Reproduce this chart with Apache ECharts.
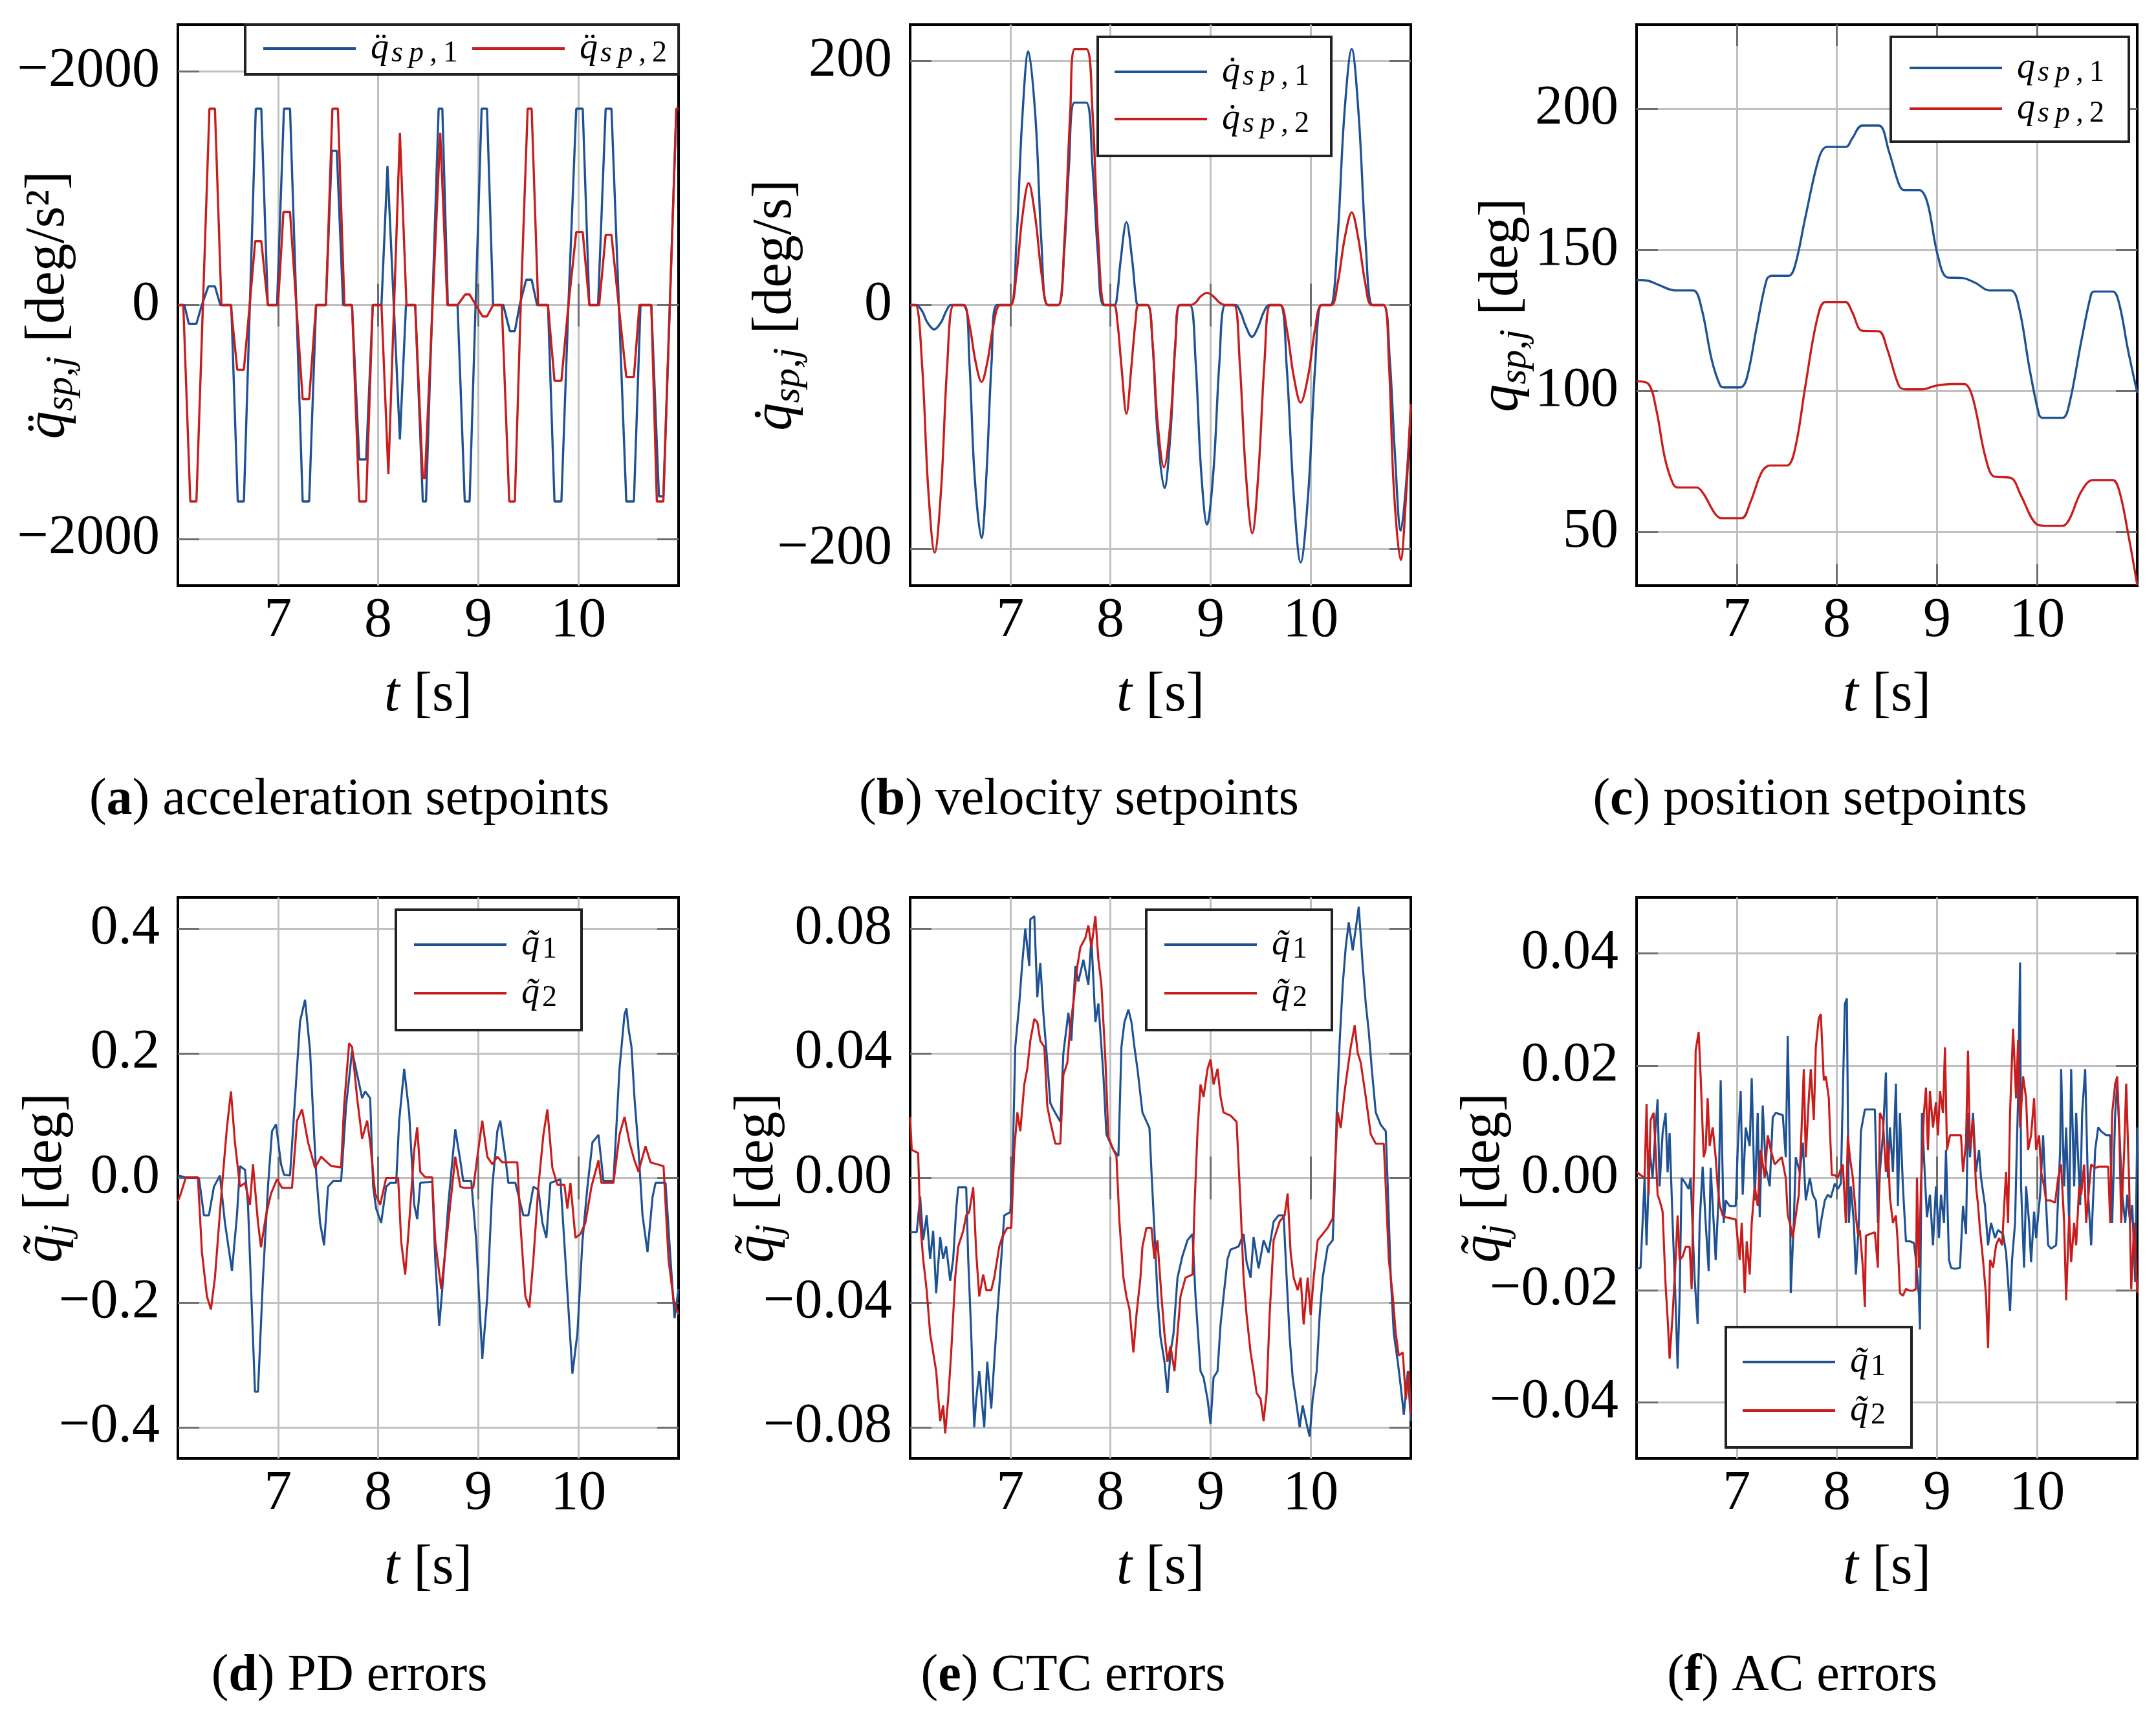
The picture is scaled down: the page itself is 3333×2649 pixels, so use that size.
<!DOCTYPE html>
<html><head><meta charset="utf-8">
<script src="https://cdn.jsdelivr.net/npm/echarts@6/dist/echarts.min.js"></script>
<style>html,body{margin:0;padding:0;background:#fff}#c{width:3333px;height:2649px}</style>
</head><body><div id="c"></div>
<script>
// ---------------- data ----------------
const xTicks = [7, 8, 9, 10];
const accTicks = [-2000, 0, 2000];
const velTicks = [-200, 0, 200];
const posTicks = [50, 100, 150, 200];
const pdTicks = [-0.4, -0.2, 0, 0.2, 0.4];
const ctcTicks = [-0.08, -0.04, 0, 0.04, 0.08];
const acTicks = [-0.04, -0.02, 0, 0.02, 0.04];

const accQ1 = [[6.0,0],[6.065,0],[6.109,-160],[6.185,-160],[6.239,0],[6.304,160],[6.37,160],[6.424,0],[6.533,0],[6.598,-1680],[6.659,-1680],[6.778,1680],[6.833,1680],[6.898,0],[6.99,0],[7.059,1680],[7.12,1680],[7.246,-1680],[7.311,-1680],[7.38,0],[7.478,0],[7.537,1320],[7.587,1320],[7.65,0],[7.739,0],[7.811,-1320],[7.88,-1320],[7.946,0],[8.033,0],[8.093,1190],[8.217,-1150],[8.278,0],[8.37,0],[8.446,-1680],[8.478,-1680],[8.604,1680],[8.641,1680],[8.696,0],[8.793,0],[8.865,-1680],[8.913,-1680],[9.033,1680],[9.087,1680],[9.148,0],[9.25,0],[9.315,-223],[9.365,-223],[9.413,0],[9.478,217],[9.533,217],[9.587,0],[9.696,0],[9.761,-1680],[9.83,-1680],[9.9,0],[9.978,1680],[10.043,1680],[10.109,0],[10.196,0],[10.272,1680],[10.33,1680],[10.478,-1680],[10.554,-1680],[10.62,0],[10.728,0],[10.804,-1636],[10.848,-1636],[10.978,1680],[11.0,1680]];
const accQ2 = [[6.0,0],[6.054,0],[6.124,-1680],[6.185,-1680],[6.315,1680],[6.37,1680],[6.435,0],[6.528,0],[6.593,-553],[6.659,-553],[6.717,0],[6.772,547],[6.833,547],[6.898,0],[7.0,0],[7.054,797],[7.12,797],[7.246,-804],[7.311,-804],[7.38,0],[7.478,0],[7.543,1680],[7.598,1680],[7.663,0],[7.739,0],[7.811,-1680],[7.88,-1680],[7.946,0],[8.033,0],[8.102,-1447],[8.217,1473],[8.283,0],[8.37,0],[8.446,-1480],[8.467,-1480],[8.62,1473],[8.691,0],[8.793,0],[8.87,91],[8.913,91],[9.043,-97],[9.087,-97],[9.148,0],[9.235,0],[9.309,-1680],[9.365,-1680],[9.424,0],[9.493,1680],[9.533,1680],[9.598,0],[9.696,0],[9.761,-647],[9.83,-647],[9.9,0],[9.978,625],[10.043,625],[10.109,0],[10.207,0],[10.272,600],[10.33,600],[10.402,0],[10.478,-615],[10.554,-615],[10.609,0],[10.728,0],[10.783,-1680],[10.848,-1680],[10.978,1680],[11.0,1680]];

const velQ1 = [[6.0,0],[6.06,0],[6.12,-5],[6.17,-14],[6.24,-20],[6.31,-14],[6.36,-5],[6.406,0],[6.538,0],[6.591,-46],[6.643,-139],[6.713,-191],[6.762,-139],[6.814,-46],[6.867,0],[7.0,0],[7.06,50],[7.119,152],[7.18,208],[7.253,152],[7.312,50],[7.372,0],[7.478,0],[7.537,42],[7.587,115],[7.642,166],[7.758,166],[7.82,115],[7.875,42],[7.933,0],[8.038,0],[8.07,10],[8.1,35],[8.16,68],[8.22,35],[8.25,10],[8.279,0],[8.37,0],[8.42,-30],[8.47,-105],[8.54,-150],[8.6,-105],[8.65,-30],[8.696,0],[8.793,0],[8.85,-45],[8.905,-135],[8.965,-180],[9.03,-135],[9.09,-45],[9.148,0],[9.25,0],[9.3,-6],[9.35,-17],[9.413,-26],[9.48,-17],[9.53,-6],[9.587,0],[9.696,0],[9.76,-50],[9.83,-155],[9.9,-211],[9.975,-155],[10.045,-50],[10.109,0],[10.196,0],[10.265,50],[10.335,155],[10.41,210],[10.48,155],[10.55,50],[10.62,0],[10.728,0],[10.79,-45],[10.84,-120],[10.9,-185],[10.95,-150],[11.0,-85]];
const velQ2 = [[6.0,0],[6.054,0],[6.12,-50],[6.18,-150],[6.245,-203],[6.31,-150],[6.37,-50],[6.435,0],[6.528,0],[6.59,-15],[6.65,-45],[6.713,-63],[6.775,-45],[6.835,-15],[6.898,0],[7.0,0],[7.06,24],[7.12,72],[7.183,100],[7.25,72],[7.315,24],[7.38,0],[7.478,0],[7.54,52],[7.6,160],[7.645,210],[7.76,210],[7.82,160],[7.88,52],[7.946,0],[8.033,0],[8.07,-14],[8.11,-50],[8.16,-89],[8.21,-50],[8.25,-14],[8.283,0],[8.37,0],[8.42,-30],[8.47,-95],[8.535,-133],[8.6,-95],[8.65,-30],[8.691,0],[8.793,0],[8.85,2],[8.9,7],[8.965,10],[9.03,7],[9.09,2],[9.148,0],[9.235,0],[9.29,-45],[9.35,-135],[9.417,-187],[9.48,-135],[9.54,-45],[9.598,0],[9.696,0],[9.76,-19],[9.83,-58],[9.9,-80],[9.975,-58],[10.045,-19],[10.109,0],[10.207,0],[10.27,18],[10.34,55],[10.41,76],[10.475,55],[10.545,18],[10.609,0],[10.728,0],[10.78,-45],[10.83,-150],[10.9,-209],[10.95,-160],[11.0,-81]];

const posQ1 = [[6.0,139.4],[6.117,139.1],[6.217,137.7],[6.384,135.7],[6.567,135.7],[6.65,129.2],[6.751,111],[6.834,102],[6.87,101.3],[7.035,101.3],[7.1,104.5],[7.2,122.7],[7.3,139.6],[7.35,140.9],[7.52,140.9],[7.585,144.8],[7.686,161.7],[7.82,182.5],[7.9,186.6],[8.09,186.6],[8.153,189.6],[8.253,194.2],[8.42,194.2],[8.52,185],[8.62,173.4],[8.67,171.3],[8.82,171.3],[8.904,166.9],[9.004,148.7],[9.104,140.3],[9.254,140.1],[9.388,138.3],[9.521,135.7],[9.738,135.7],[9.822,129.2],[9.922,108.4],[10.02,91.6],[10.055,90.5],[10.255,90.5],[10.322,95.5],[10.44,117.5],[10.54,134.4],[10.57,135.3],[10.756,135.3],[10.823,130.5],[10.906,114.9],[11.0,99.4]];
const posQ2 = [[6.0,103.5],[6.117,102.6],[6.2,92.9],[6.284,76],[6.367,66.9],[6.417,65.8],[6.6,65.8],[6.668,63.6],[6.784,56.5],[6.85,54.9],[7.05,54.9],[7.135,60.4],[7.252,71.4],[7.335,73.6],[7.502,73.6],[7.585,79.9],[7.686,101.9],[7.802,125.3],[7.886,131.6],[8.086,131.6],[8.153,128],[8.253,121.4],[8.42,121.2],[8.503,114.9],[8.62,101.9],[8.687,100.6],[8.854,100.6],[8.987,101.9],[9.154,102.5],[9.271,102.5],[9.354,98],[9.488,76],[9.571,69.7],[9.738,69.2],[9.838,63],[9.989,52.9],[10.089,52.2],[10.255,52.2],[10.322,54.5],[10.44,64.3],[10.556,68.4],[10.756,68.4],[10.823,64.3],[10.906,50],[11.0,31.2]];

const pdErr1 = [[6.0,0.004],[6.098,0.0],[6.21,0],[6.26,-0.06],[6.31,-0.06],[6.36,-0.014],[6.42,0.004],[6.47,-0.072],[6.54,-0.149],[6.59,-0.06],[6.62,0.019],[6.67,0.013],[6.70,-0.043],[6.77,-0.343],[6.80,-0.343],[6.85,-0.16],[6.9,-0.014],[6.94,0.075],[6.98,0.086],[7.03,0.022],[7.06,0.005],[7.12,0.004],[7.17,0.128],[7.22,0.251],[7.27,0.286],[7.32,0.204],[7.35,0.104],[7.38,0.01],[7.42,-0.072],[7.46,-0.108],[7.5,-0.014],[7.55,-0.005],[7.63,-0.005],[7.68,0.116],[7.74,0.204],[7.81,0.151],[7.84,0.128],[7.87,0.139],[7.92,0.128],[7.95,-0.014],[7.98,-0.049],[8.03,-0.072],[8.08,-0.014],[8.12,-0.008],[8.18,-0.008],[8.21,0.092],[8.26,0.175],[8.31,0.104],[8.36,-0.043],[8.39,-0.066],[8.42,-0.008],[8.54,-0.006],[8.57,-0.131],[8.61,-0.237],[8.65,-0.16],[8.70,-0.043],[8.77,0.078],[8.82,0.028],[8.85,-0.005],[8.93,-0.005],[8.98,-0.102],[9.04,-0.29],[9.09,-0.19],[9.14,-0.014],[9.19,0.075],[9.22,0.092],[9.27,0.034],[9.30,-0.008],[9.37,-0.008],[9.45,-0.06],[9.5,-0.06],[9.55,-0.014],[9.6,-0.019],[9.64,-0.072],[9.68,-0.096],[9.72,-0.008],[9.82,-0.002],[9.87,-0.131],[9.94,-0.314],[9.99,-0.249],[10.04,-0.102],[10.09,-0.014],[10.14,0.057],[10.2,0.069],[10.25,-0.005],[10.35,-0.005],[10.41,0.175],[10.46,0.262],[10.48,0.272],[10.5,0.24],[10.53,0.21],[10.56,0.128],[10.6,0.045],[10.64,-0.06],[10.69,-0.119],[10.74,-0.031],[10.77,-0.008],[10.87,-0.008],[10.92,-0.131],[10.96,-0.225],[11.0,-0.178]];
const pdErr2 = [[6.0,-0.037],[6.03,-0.025],[6.08,0.001],[6.2,0.001],[6.24,-0.119],[6.29,-0.19],[6.33,-0.211],[6.37,-0.16],[6.44,-0.014],[6.49,0.081],[6.53,0.139],[6.57,0.057],[6.62,-0.014],[6.67,-0.008],[6.72,-0.043],[6.75,0.022],[6.80,-0.072],[6.83,-0.111],[6.88,-0.06],[6.93,-0.025],[6.99,-0.002],[7.04,-0.016],[7.14,-0.016],[7.19,0.092],[7.24,0.11],[7.30,0.057],[7.37,0.016],[7.43,0.034],[7.53,0.019],[7.63,0.017],[7.66,0.116],[7.71,0.216],[7.74,0.21],[7.79,0.128],[7.84,0.063],[7.89,0.092],[7.92,0.057],[7.97,-0.025],[8.02,-0.043],[8.08,0],[8.2,0],[8.23,-0.102],[8.27,-0.155],[8.31,-0.072],[8.36,0.045],[8.39,0.081],[8.42,0.01],[8.47,0.001],[8.54,0.001],[8.57,-0.102],[8.63,-0.178],[8.67,-0.119],[8.72,-0.043],[8.77,0.034],[8.82,-0.014],[8.86,-0.016],[8.95,-0.016],[9.0,0.045],[9.04,0.092],[9.09,0.034],[9.14,0.022],[9.19,0.034],[9.24,0.025],[9.29,0.025],[9.39,0.025],[9.42,-0.072],[9.47,-0.19],[9.51,-0.208],[9.55,-0.131],[9.6,-0.014],[9.65,0.069],[9.69,0.11],[9.74,0.016],[9.79,-0.011],[9.86,-0.011],[9.89,-0.049],[9.92,-0.008],[9.97,-0.096],[10.02,-0.09],[10.07,-0.072],[10.13,-0.014],[10.2,0.028],[10.23,-0.008],[10.35,-0.008],[10.41,0.069],[10.46,0.098],[10.51,0.057],[10.56,0.028],[10.6,0.01],[10.67,0.051],[10.72,0.025],[10.85,0.019],[10.9,-0.131],[10.95,-0.196],[11.0,-0.219]];

const ctcErr1 = [[6.0,-0.0174],[6.066,-0.0174],[6.1,-0.006],[6.13,-0.02],[6.165,-0.012],[6.2,-0.026],[6.23,-0.017],[6.26,-0.037],[6.3,-0.019],[6.33,-0.026],[6.36,-0.022],[6.4,-0.033],[6.43,-0.026],[6.46,-0.01],[6.48,-0.003],[6.56,-0.003],[6.58,-0.026],[6.61,-0.05],[6.64,-0.08],[6.66,-0.071],[6.69,-0.062],[6.72,-0.073],[6.74,-0.08],[6.77,-0.059],[6.81,-0.074],[6.84,-0.059],[6.87,-0.044],[6.91,-0.026],[6.94,-0.012],[7.0,-0.011],[7.02,0.0],[7.05,0.042],[7.09,0.056],[7.12,0.069],[7.15,0.08],[7.19,0.068],[7.2,0.083],[7.24,0.084],[7.27,0.058],[7.3,0.069],[7.33,0.053],[7.37,0.037],[7.4,0.024],[7.43,0.022],[7.5,0.018],[7.53,0.04],[7.58,0.053],[7.61,0.044],[7.65,0.068],[7.68,0.063],[7.73,0.07],[7.78,0.062],[7.81,0.077],[7.85,0.05],[7.88,0.056],[7.93,0.033],[7.96,0.014],[8.03,0.009],[8.08,0.007],[8.11,0.042],[8.14,0.05],[8.18,0.054],[8.21,0.05],[8.24,0.042],[8.27,0.035],[8.32,0.021],[8.39,0.016],[8.41,0.002],[8.44,-0.017],[8.47,-0.038],[8.5,-0.051],[8.54,-0.059],[8.57,-0.069],[8.6,-0.056],[8.63,-0.05],[8.67,-0.032],[8.72,-0.025],[8.77,-0.02],[8.82,-0.018],[8.85,-0.038],[8.9,-0.062],[8.93,-0.064],[8.97,-0.071],[9.0,-0.079],[9.03,-0.064],[9.07,-0.062],[9.1,-0.047],[9.13,-0.038],[9.17,-0.026],[9.2,-0.023],[9.28,-0.022],[9.33,-0.018],[9.36,-0.027],[9.4,-0.032],[9.43,-0.019],[9.48,-0.029],[9.53,-0.02],[9.58,-0.024],[9.63,-0.014],[9.68,-0.012],[9.73,-0.012],[9.76,-0.032],[9.79,-0.051],[9.82,-0.064],[9.86,-0.073],[9.89,-0.08],[9.92,-0.073],[9.96,-0.079],[9.99,-0.083],[10.02,-0.071],[10.06,-0.062],[10.09,-0.044],[10.12,-0.032],[10.17,-0.022],[10.22,-0.02],[10.24,-0.003],[10.26,0.021],[10.29,0.044],[10.32,0.062],[10.35,0.074],[10.38,0.082],[10.42,0.073],[10.45,0.08],[10.48,0.087],[10.52,0.068],[10.55,0.056],[10.58,0.047],[10.61,0.035],[10.65,0.021],[10.7,0.017],[10.75,0.015],[10.77,-0.003],[10.8,-0.032],[10.83,-0.05],[10.87,-0.059],[10.9,-0.067],[10.93,-0.076],[10.97,-0.062],[11.0,-0.078]];
const ctcErr2 = [[6.0,0.0196],[6.016,0.009],[6.08,0.008],[6.1,-0.014],[6.13,-0.026],[6.165,-0.036],[6.2,-0.05],[6.23,-0.056],[6.26,-0.062],[6.3,-0.078],[6.33,-0.073],[6.35,-0.082],[6.38,-0.071],[6.41,-0.056],[6.45,-0.032],[6.48,-0.022],[6.53,-0.017],[6.56,-0.012],[6.59,-0.011],[6.63,-0.003],[6.66,-0.024],[6.69,-0.038],[6.73,-0.031],[6.76,-0.036],[6.81,-0.036],[6.84,-0.032],[6.89,-0.022],[6.92,-0.019],[6.97,-0.016],[7.01,-0.016],[7.04,0.009],[7.07,0.021],[7.1,0.015],[7.14,0.03],[7.17,0.035],[7.2,0.044],[7.24,0.051],[7.27,0.05],[7.3,0.044],[7.34,0.042],[7.37,0.023],[7.4,0.018],[7.45,0.011],[7.5,0.011],[7.53,0.033],[7.57,0.037],[7.6,0.049],[7.63,0.056],[7.67,0.068],[7.7,0.074],[7.75,0.077],[7.78,0.081],[7.81,0.074],[7.85,0.084],[7.88,0.07],[7.91,0.062],[7.95,0.038],[7.98,0.013],[8.03,0.009],[8.06,0.007],[8.09,-0.014],[8.13,-0.032],[8.16,-0.038],[8.19,-0.042],[8.23,-0.056],[8.26,-0.044],[8.3,-0.032],[8.32,-0.022],[8.36,-0.016],[8.41,-0.016],[8.44,-0.026],[8.47,-0.02],[8.51,-0.038],[8.54,-0.05],[8.57,-0.059],[8.6,-0.054],[8.64,-0.062],[8.67,-0.05],[8.7,-0.038],[8.75,-0.032],[8.82,-0.031],[8.84,-0.009],[8.87,0.015],[8.9,0.03],[8.93,0.026],[8.97,0.035],[9.0,0.038],[9.03,0.03],[9.07,0.035],[9.1,0.026],[9.13,0.021],[9.2,0.02],[9.26,0.018],[9.3,-0.009],[9.33,-0.032],[9.36,-0.044],[9.4,-0.056],[9.43,-0.062],[9.46,-0.069],[9.5,-0.071],[9.53,-0.078],[9.56,-0.069],[9.59,-0.044],[9.63,-0.02],[9.66,-0.017],[9.69,-0.014],[9.74,-0.012],[9.77,-0.005],[9.8,-0.024],[9.83,-0.032],[9.87,-0.036],[9.9,-0.032],[9.93,-0.047],[9.97,-0.032],[10.0,-0.044],[10.03,-0.032],[10.07,-0.02],[10.12,-0.018],[10.17,-0.016],[10.22,-0.013],[10.24,0.002],[10.27,0.021],[10.3,0.016],[10.34,0.028],[10.37,0.035],[10.4,0.042],[10.44,0.049],[10.47,0.04],[10.5,0.037],[10.55,0.026],[10.6,0.014],[10.65,0.011],[10.73,0.011],[10.75,-0.003],[10.78,-0.026],[10.82,-0.038],[10.85,-0.05],[10.88,-0.057],[10.92,-0.056],[10.95,-0.071],[10.98,-0.062],[11.0,-0.076]];

const acErr1 = [[6.0,-0.0162],[6.04,-0.016],[6.08,0.0],[6.1,-0.012],[6.13,0.005],[6.16,0.0],[6.19,0.009],[6.21,0.014],[6.23,-0.0015],[6.26,0.008],[6.29,0.0116],[6.31,0.001],[6.33,0.008],[6.36,-0.008],[6.39,-0.0224],[6.41,-0.034],[6.43,-0.021],[6.45,0.0],[6.49,-0.001],[6.52,-0.002],[6.54,0.0],[6.58,-0.018],[6.61,-0.026],[6.63,-0.008],[6.66,0.002],[6.69,-0.008],[6.72,-0.0166],[6.74,0.0018],[6.77,-0.008],[6.79,-0.0146],[6.82,-0.003],[6.84,0.0174],[6.87,-0.008],[6.89,-0.004],[6.93,-0.005],[6.99,-0.005],[7.01,0.005],[7.04,0.0155],[7.06,-0.003],[7.09,0.009],[7.13,0.0057],[7.15,0.0178],[7.18,-0.004],[7.21,0.0116],[7.23,-0.007],[7.26,0.0129],[7.29,0.0018],[7.33,-0.0015],[7.36,0.0108],[7.39,0.0116],[7.46,0.0112],[7.49,0.0037],[7.51,0.0253],[7.53,0.005],[7.54,-0.0205],[7.57,-0.008],[7.59,0.0037],[7.63,0.001],[7.66,0.0063],[7.69,-0.004],[7.73,0.0],[7.76,-0.003],[7.79,-0.004],[7.82,-0.0107],[7.84,-0.008],[7.88,-0.004],[7.91,-0.003],[7.94,-0.0035],[7.98,-0.001],[8.01,-0.002],[8.04,-0.001],[8.08,0.031],[8.1,0.032],[8.12,-0.008],[8.14,-0.0015],[8.17,-0.008],[8.19,-0.0172],[8.22,-0.008],[8.24,0.0083],[8.28,0.0122],[8.33,0.0122],[8.38,0.0122],[8.41,-0.008],[8.43,0.0011],[8.46,0.0076],[8.49,0.0188],[8.51,0.0],[8.53,0.009],[8.56,0.0011],[8.59,0.0168],[8.61,-0.005],[8.63,0.0116],[8.66,-0.0015],[8.69,-0.0113],[8.73,-0.0113],[8.77,-0.0116],[8.79,-0.0146],[8.82,-0.021],[8.83,-0.027],[8.85,0.0116],[8.88,0.0],[8.9,-0.007],[8.93,-0.003],[8.96,-0.012],[8.99,-0.0015],[9.02,-0.0107],[9.04,-0.003],[9.07,-0.008],[9.09,0.005],[9.12,-0.0146],[9.14,-0.016],[9.18,-0.0162],[9.23,-0.016],[9.26,-0.005],[9.29,-0.01],[9.31,0.0116],[9.33,0.0037],[9.36,0.0116],[9.39,0.0011],[9.42,0.005],[9.44,0.0],[9.48,-0.005],[9.51,-0.012],[9.54,-0.008],[9.58,-0.0107],[9.61,-0.0093],[9.66,-0.01],[9.69,-0.0133],[9.73,-0.0237],[9.75,-0.0146],[9.78,-0.008],[9.79,0.0],[9.81,0.0142],[9.83,0.0384],[9.84,-0.0015],[9.87,-0.016],[9.89,-0.0015],[9.92,-0.008],[9.94,-0.015],[9.97,-0.006],[9.99,-0.0107],[10.03,-0.003],[10.06,0.0076],[10.09,-0.0048],[10.11,-0.012],[10.14,-0.0126],[10.19,-0.012],[10.23,0.005],[10.24,0.0194],[10.27,-0.0015],[10.29,0.009],[10.32,-0.008],[10.34,0.0194],[10.37,-0.0015],[10.39,0.0116],[10.43,-0.0048],[10.45,0.0116],[10.48,0.0194],[10.51,-0.003],[10.54,-0.012],[10.58,0.005],[10.61,0.009],[10.64,0.0083],[10.69,0.0076],[10.73,0.0076],[10.75,-0.008],[10.78,0.0116],[10.8,0.0168],[10.83,0.005],[10.85,-0.003],[10.88,-0.008],[10.9,-0.003],[10.93,-0.008],[10.95,-0.0048],[10.98,-0.0185],[11.0,0.009]];
const acErr2 = [[6.0,0.0011],[6.04,0.0005],[6.08,0.0],[6.1,0.0132],[6.12,-0.003],[6.14,0.0103],[6.17,0.0116],[6.19,0.005],[6.21,-0.003],[6.23,-0.004],[6.26,-0.006],[6.29,-0.0192],[6.31,-0.025],[6.33,-0.0322],[6.36,-0.0244],[6.39,-0.0146],[6.41,-0.0067],[6.43,-0.0146],[6.46,-0.014],[6.49,-0.0123],[6.53,-0.0123],[6.55,-0.0198],[6.58,0.009],[6.59,0.0227],[6.62,0.026],[6.64,0.0181],[6.67,0.0037],[6.69,0.005],[6.71,0.0142],[6.73,0.0057],[6.76,0.009],[6.79,0.0037],[6.81,-0.0015],[6.83,-0.0048],[6.86,-0.0067],[6.89,-0.007],[6.94,-0.0072],[6.99,-0.0074],[7.03,-0.0146],[7.05,-0.008],[7.08,-0.0205],[7.1,-0.0113],[7.13,-0.0172],[7.15,-0.008],[7.18,-0.0015],[7.21,-0.005],[7.24,0.005],[7.28,0.0],[7.31,0.0076],[7.34,0.005],[7.38,0.0024],[7.41,0.003],[7.45,0.0037],[7.49,0.0],[7.51,-0.0067],[7.53,-0.008],[7.56,-0.0107],[7.59,-0.0067],[7.62,-0.003],[7.64,0.005],[7.67,0.0194],[7.69,0.0037],[7.72,0.0142],[7.74,0.0194],[7.77,0.0103],[7.79,0.0233],[7.82,0.0285],[7.84,0.0292],[7.87,0.0174],[7.89,0.0181],[7.92,0.0142],[7.93,0.009],[7.95,0.0005],[7.98,0.0005],[8.01,0.0],[8.03,0.0011],[8.06,0.0024],[8.09,-0.008],[8.11,0.0076],[8.13,0.0037],[8.16,0.0],[8.19,-0.0067],[8.21,-0.01],[8.23,-0.0093],[8.26,-0.016],[8.28,-0.023],[8.29,-0.0103],[8.33,-0.01],[8.38,-0.0097],[8.41,-0.016],[8.43,0.0116],[8.46,0.0103],[8.49,0.0011],[8.51,0.0063],[8.53,-0.0035],[8.56,-0.008],[8.59,-0.0067],[8.61,-0.012],[8.63,-0.0205],[8.66,-0.021],[8.69,-0.0198],[8.73,-0.0201],[8.76,-0.0201],[8.79,-0.0198],[8.8,0.0],[8.82,-0.016],[8.84,-0.0015],[8.87,0.0116],[8.89,0.0161],[8.91,0.005],[8.93,0.0155],[8.96,0.009],[8.99,0.0135],[9.01,0.0076],[9.03,0.0155],[9.06,0.0116],[9.08,0.0233],[9.1,0.005],[9.13,0.0076],[9.18,0.0076],[9.24,0.0076],[9.26,0.0011],[9.29,0.0063],[9.31,0.0227],[9.33,0.005],[9.36,0.0103],[9.39,-0.0015],[9.41,-0.0048],[9.43,-0.0093],[9.46,-0.0146],[9.49,-0.021],[9.51,-0.0303],[9.53,-0.0146],[9.56,-0.016],[9.59,-0.012],[9.62,-0.0107],[9.65,-0.012],[9.69,0.0011],[9.71,-0.008],[9.73,0.0116],[9.76,0.0266],[9.79,0.0142],[9.81,0.0246],[9.83,0.009],[9.86,0.0181],[9.89,0.0142],[9.91,0.005],[9.94,0.0076],[9.97,0.0142],[9.99,0.005],[10.02,0.0076],[10.04,0.0011],[10.07,-0.0015],[10.09,-0.004],[10.13,-0.004],[10.18,-0.0044],[10.21,0.0],[10.24,0.0024],[10.27,-0.008],[10.29,-0.0218],[10.32,-0.0067],[10.34,-0.015],[10.37,-0.008],[10.39,-0.012],[10.42,-0.0015],[10.44,-0.003],[10.47,0.0024],[10.49,-0.008],[10.52,-0.0015],[10.54,0.0024],[10.58,0.0018],[10.61,0.002],[10.66,0.002],[10.71,0.002],[10.73,-0.008],[10.75,0.0116],[10.78,0.0168],[10.8,0.0181],[10.82,0.009],[10.84,-0.008],[10.87,0.005],[10.89,0.0168],[10.92,-0.0015],[10.94,-0.0198],[10.97,-0.008],[11.0,-0.0205]];

// ---------------- styling / layout ----------------
const F = 'Liberation Serif';
const BLUE = '#1f5293', RED = '#c81d1d';
const GRIDS = [
  {left:275, top:38, width:774, height:867},
  {left:1407, top:38, width:774, height:867},
  {left:2530, top:38, width:774, height:867},
  {left:275, top:1387, width:774, height:867},
  {left:1407, top:1387, width:774, height:867},
  {left:2530, top:1387, width:774, height:867}
];
const mfmt = d => v => (v < 0 ? '\u2212' : '') + Math.abs(v).toFixed(d);
const sub12 = (acc, j) => '{q|q' + acc + '}{s|s\u2009p\u2009,\u2009}{d|' + j + '}';
const panels = [
  {min:-2400, max:2400, ticks:accTicks, fmt: v => v === 0 ? '0' : '\u2212' + Math.abs(v),
   yname:'{i|q\u0308}{s|sp,j}{n| [deg/s\u00b2]}', gap:150, s1:accQ1, s2:accQ2, smooth:false, lw:3.4,
   lab:[sub12('\u0308', 1), sub12('\u0308', 2)],
   leg:{orient:'horizontal', left:379, top:38, padding:[9,18,9,28], itemGap:22}},
  {min:-230, max:230, ticks:velTicks, fmt: mfmt(0),
   yname:'{i|q\u0307}{s|sp,j}{n| [deg/s]}', gap:158, s1:velQ1, s2:velQ2, smooth:0.35, lw:3.4,
   lab:[sub12('\u0307', 1), sub12('\u0307', 2)],
   leg:{orient:'vertical', left:1697, top:57, padding:[26,34,26,26], itemGap:14}},
  {min:31, max:230, ticks:posTicks, fmt: v => String(v),
   yname:'{i|q}{s|sp,j}{n| [deg]}', gap:158, s1:posQ1, s2:posQ2, smooth:0.35, lw:3.4,
   lab:[sub12('', 1), sub12('', 2)],
   leg:{orient:'vertical', left:2923, top:57, padding:[20,38,20,29], itemGap:4}},
  {min:-0.45, max:0.45, ticks:pdTicks, fmt: mfmt(1),
   yname:'{i|q\u0303}{s|j}{n| [deg]}', gap:154, s1:pdErr1, s2:pdErr2, smooth:false, lw:3.2,
   lab:['{q|q\u0303}{d|1}','{q|q\u0303}{d|2}'],
   leg:{orient:'vertical', left:612, top:1406, padding:[26,38,26,28], itemGap:16}},
  {min:-0.09, max:0.09, ticks:ctcTicks, fmt: mfmt(2),
   yname:'{i|q\u0303}{s|j}{n| [deg]}', gap:186, s1:ctcErr1, s2:ctcErr2, smooth:false, lw:3.2,
   lab:['{q|q\u0303}{d|1}','{q|q\u0303}{d|2}'],
   leg:{orient:'vertical', left:1772, top:1406, padding:[26,38,26,28], itemGap:16}},
  {min:-0.05, max:0.05, ticks:acTicks, fmt: mfmt(2),
   yname:'{i|q\u0303}{s|j}{n| [deg]}', gap:186, s1:acErr1, s2:acErr2, smooth:false, lw:3.2,
   lab:['{q|q\u0303}{d|1}','{q|q\u0303}{d|2}'],
   leg:{orient:'vertical', left:2668, top:2051, padding:[26,40,26,26], itemGap:16}}
];
const captions = [
  {x:540, y:1237, text:'({b|a}) acceleration setpoints'},
  {x:1668, y:1237, text:'({b|b}) velocity setpoints'},
  {x:2798, y:1237, text:'({b|c}) position setpoints'},
  {x:540, y:2591, text:'({b|d}) PD errors'},
  {x:1659, y:2591, text:'({b|e}) CTC errors'},
  {x:2786, y:2591, text:'({b|f}) AC errors'}
];

const tickStyle = {color:'#6e6e6e', width:3};
const nameRich = {
  i:{fontFamily:F, fontStyle:'italic', fontSize:86, lineHeight:100, color:'#000'},
  s:{fontFamily:F, fontStyle:'italic', fontSize:60, lineHeight:44, verticalAlign:'bottom', color:'#000'},
  n:{fontFamily:F, fontSize:86, lineHeight:100, color:'#000'}
};
const legRich = {
  q:{fontFamily:F, fontStyle:'italic', fontSize:56, lineHeight:62, padding:[0,4,0,18], color:'#000'},
  s:{fontFamily:F, fontStyle:'italic', fontSize:46, lineHeight:28, verticalAlign:'bottom', color:'#000'},
  d:{fontFamily:F, fontSize:46, lineHeight:28, verticalAlign:'bottom', color:'#000'}
};

const option = {animation:false, backgroundColor:'#fff', grid:[], xAxis:[], yAxis:[], series:[], legend:[], graphic:[]};
panels.forEach((p, k) => {
  option.grid.push(Object.assign({show:true, borderColor:'#000', borderWidth:4, backgroundColor:'transparent',
    containLabel:false, outerBoundsMode:'none'}, GRIDS[k]));
  option.xAxis.push({gridIndex:k, type:'value', min:6, max:11, position:'bottom',
    axisLine:{show:false},
    axisTick:{show:true, inside:true, length:33, lineStyle:tickStyle, customValues:xTicks},
    axisLabel:{customValues:xTicks, fontFamily:F, fontSize:86, color:'#000', margin:12},
    splitLine:{show:true, lineStyle:{color:'#c0c0c0', width:3}},
    name:'{i|t}{n| [s]}', nameLocation:'middle', nameGap:120, nameMoveOverlap:false, nameTextStyle:{rich:nameRich}});
  option.xAxis.push({gridIndex:k, type:'value', min:6, max:11, position:'top',
    axisLine:{show:false},
    axisTick:{show:true, inside:true, length:33, lineStyle:tickStyle, customValues:xTicks},
    axisLabel:{show:false}, splitLine:{show:false}});
  option.yAxis.push({gridIndex:k, type:'value', min:p.min, max:p.max, position:'left',
    axisLine:{show:false},
    axisTick:{show:true, inside:true, length:33, lineStyle:tickStyle, customValues:p.ticks},
    axisLabel:{customValues:p.ticks, formatter:p.fmt, fontFamily:F, fontSize:86, color:'#000', margin:28},
    splitLine:{show:true, lineStyle:{color:'#c0c0c0', width:3}},
    name:p.yname, nameLocation:'middle', nameRotate:90, nameGap:p.gap, nameMoveOverlap:false, nameTextStyle:{rich:nameRich}});
  option.yAxis.push({gridIndex:k, type:'value', min:p.min, max:p.max, position:'right',
    axisLine:{show:false},
    axisTick:{show:true, inside:true, length:33, lineStyle:tickStyle, customValues:p.ticks},
    axisLabel:{show:false}, splitLine:{show:false}});
  const n1 = 'p' + k + 'a', n2 = 'p' + k + 'b';
  [[n1, p.s1, BLUE], [n2, p.s2, RED]].forEach(([nm, d, c]) => {
    option.series.push({name:nm, type:'line', xAxisIndex:2*k, yAxisIndex:2*k, data:d,
      symbol:'none', showSymbol:false, smooth:p.smooth, clip:true,
      lineStyle:{color:c, width:p.lw}, itemStyle:{color:c}, emphasis:{disabled:true}});
  });
  const labMap = {[n1]:p.lab[0], [n2]:p.lab[1]};
  option.legend.push(Object.assign({data:[n1, n2], backgroundColor:'#fff', borderColor:'#222', borderWidth:4,
    icon:'rect', itemWidth:143, itemHeight:4, selectedMode:false,
    formatter: nm => labMap[nm],
    textStyle:{fontFamily:F, color:'#000', rich:legRich}}, p.leg));
});
captions.forEach(c => {
  option.graphic.push({type:'text', x:c.x, y:c.y, style:{text:c.text, fontFamily:F, fontSize:80, fill:'#000',
    align:'center', verticalAlign:'middle', rich:{b:{fontFamily:F, fontSize:80, fontWeight:'bold'}}}});
});
const chart = echarts.init(document.getElementById('c'), null, {renderer:'canvas'});
chart.setOption(option);
</script>
</body></html>
